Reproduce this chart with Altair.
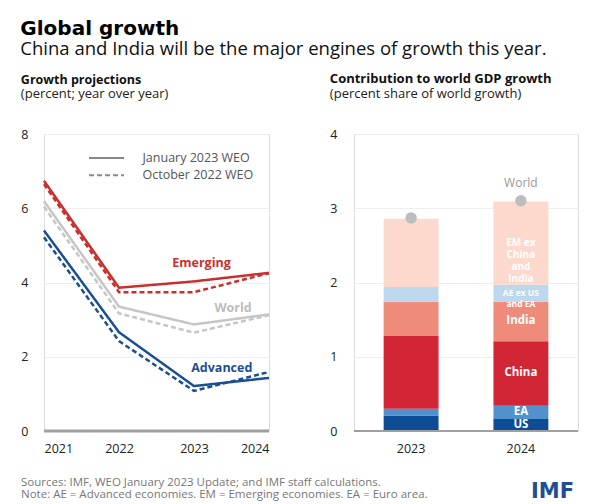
import altair as alt
import pandas as pd

FONT = "Open Sans"

# ---------------- Left panel data: growth projections ----------------
years = [2021, 2022, 2023, 2024]
regions = ["Emerging", "World", "Advanced"]
vintages = ["January 2023 WEO", "October 2022 WEO"]
emerging_jan = [6.74, 3.86, 4.03, 4.26]
emerging_oct = [6.65, 3.74, 3.74, 4.25]
world_jan = [6.19, 3.35, 2.87, 3.14]
world_oct = [6.04, 3.17, 2.65, 3.12]
advanced_jan = [5.40, 2.66, 1.21, 1.43]
advanced_oct = [5.22, 2.42, 1.08, 1.59]
region_colors = ["#c8302d", "#c6c6c6", "#1b4f91"]

series = {
    ("Emerging", vintages[0]): emerging_jan,
    ("Emerging", vintages[1]): emerging_oct,
    ("World", vintages[0]): world_jan,
    ("World", vintages[1]): world_oct,
    ("Advanced", vintages[0]): advanced_jan,
    ("Advanced", vintages[1]): advanced_oct,
}
rows = []
for (reg, vin), vals in series.items():
    for yr, v in zip(years, vals):
        rows.append({"region": reg, "vintage": vin, "year": yr, "value": v})
lines_df = pd.DataFrame(rows)

# series name annotations (data coordinates)
ann_text = ["Emerging", "World", "Advanced"]
ann_x = [2023.1, 2023.52, 2023.37]
ann_y = [4.53, 3.32, 1.70]
ann_df = pd.DataFrame({"region": ann_text, "x": ann_x, "y": ann_y})

# ---------------- Right panel data: contribution to world growth ----------------
bar_years = ["2023", "2024"]
components = ["US", "EA", "China", "India", "AE ex US and EA", "EM ex China and India"]
comp_labels = [["US"], ["EA"], ["China"], ["India"], ["AE ex US", "and EA"], ["EM ex", "China", "and", "India"]]
comp_colors = ["#0e4c96", "#5192cd", "#d22636", "#ef8b7b", "#bdd7ec", "#fcd9cc"]
contrib_2023 = [0.21, 0.09, 0.98, 0.46, 0.20, 0.92]
contrib_2024 = [0.16, 0.18, 0.87, 0.53, 0.23, 1.12]
world_total = [2.87, 3.10]

brows = []
for yr, vals in zip(bar_years, [contrib_2023, contrib_2024]):
    cum = 0.0
    for i, (c, v) in enumerate(zip(components, vals)):
        brows.append({"year": yr, "component": c, "order": i, "value": v,
                      "mid": cum + v / 2, "label": comp_labels[i]})
        cum += v
bars_df = pd.DataFrame(brows)
world_df = pd.DataFrame({"year": bar_years, "total": world_total, "name": ["", "World"]})

notes = [
    "Sources: IMF, WEO January 2023 Update; and IMF staff calculations.",
    "Note: AE = Advanced economies.  EM = Emerging economies. EA = Euro area.",
]
notes_df = pd.DataFrame({"text": [notes]})
logo_df = pd.DataFrame({"text": ["IMF"]})

W_L, W_R, H = 225, 224, 297

# ---------------- Left panel ----------------
xq = alt.X("year:Q", scale=alt.Scale(domain=[2021, 2024], nice=False),
           axis=alt.Axis(values=years, format="d", title=None, ticks=False, domain=False,
                         grid=False, labelFontSize=12.5, labelColor="#222", labelPadding=11,
                         labelFont=FONT))
yq = alt.Y("value:Q", scale=alt.Scale(domain=[0, 8], nice=False),
           axis=alt.Axis(values=[0, 2, 4, 6, 8], format="d", title=None, ticks=False, domain=False,
                         gridColor="#eeeeee", labelFontSize=12.5, labelColor="#222",
                         labelPadding=16, labelFont=FONT))

zero_rule = alt.Chart(pd.DataFrame({"value": [0]})).mark_rule(
    color="#a0a0a0", strokeWidth=3).encode(y=alt.Y("value:Q"))

lines = alt.Chart(lines_df).mark_line(strokeWidth=2.5).encode(
    x=xq, y=yq,
    color=alt.Color("region:N", scale=alt.Scale(domain=regions, range=region_colors), legend=None),
    strokeDash=alt.StrokeDash("vintage:N", scale=alt.Scale(domain=vintages, range=[[1, 0], [5, 3]]),
                              legend=alt.Legend(orient="none", legendX=52.5, legendY=14, title=None,
                                                symbolType="M-2,0H2", symbolStrokeColor="#888888",
                                                symbolFillColor="transparent",
                                                symbolStrokeWidth=2, symbolSize=306,
                                                labelFontSize=12.5, labelColor="#555555",
                                                labelFont=FONT, labelOffset=26, rowPadding=0.3)),
)

ann = alt.Chart(ann_df).mark_text(font=FONT, fontSize=12.5, fontWeight="bold").encode(
    x=alt.X("x:Q"), y=alt.Y("y:Q"), text="region:N",
    color=alt.Color("region:N", scale=alt.Scale(domain=regions, range=["#c8302d", "#bdbdbd", "#1b4f91"]),
                    legend=None),
)

footer = alt.Chart(notes_df).mark_text(font=FONT, fontSize=11.5, color="#777777", align="left",
                                       baseline="middle", lineHeight=12).encode(
    x=alt.value(-23), y=alt.value(H + 52), text="text")

left = alt.layer(zero_rule, lines, ann, footer).resolve_scale(color="independent").properties(
    width=W_L, height=H,
    title=alt.TitleParams("Growth projections", subtitle="(percent; year over year)",
                          anchor="start", frame="bounds", font=FONT, fontSize=12.5,
                          fontWeight="bold", color="#111", subtitleFont=FONT,
                          subtitleFontSize=13, subtitleColor="#222", subtitlePadding=2,
                          offset=27),
)

# ---------------- Right panel ----------------
xb = alt.X("year:N", scale=alt.Scale(paddingInner=0.5, paddingOuter=0.27),
           axis=alt.Axis(title=None, ticks=False, domain=False, labelAngle=0,
                         labelFontSize=12.5, labelColor="#222", labelPadding=11, labelFont=FONT))
yb_scale = alt.Scale(domain=[0, 4], nice=False)
yb_axis = alt.Axis(values=[0, 1, 2, 3, 4], format="d", title=None, ticks=False, domain=False,
                   gridColor="#eeeeee", labelFontSize=12.5, labelColor="#222",
                   labelPadding=17, labelFont=FONT)

bars = alt.Chart(bars_df).mark_bar().encode(
    x=xb,
    y=alt.Y("value:Q", stack="zero", scale=yb_scale, axis=yb_axis),
    color=alt.Color("component:N", scale=alt.Scale(domain=components, range=comp_colors), legend=None),
    order=alt.Order("order:Q"),
)

zero_rule_r = alt.Chart(pd.DataFrame({"value": [0]})).mark_rule(
    color="#a0a0a0", strokeWidth=2).encode(y=alt.Y("value:Q"))

bar_text_big = alt.Chart(bars_df).transform_filter(
    "datum.year == '2024' && (datum.component == 'China' || datum.component == 'India' || datum.component == 'EA' || datum.component == 'US')"
).mark_text(font=FONT, fontSize=11.5, fontWeight="bold", color="white", baseline="middle").encode(
    x="year:N", y=alt.Y("mid:Q"), text="label")

bar_text_small = alt.Chart(bars_df).transform_filter(
    "datum.year == '2024' && datum.component == 'AE ex US and EA'"
).mark_text(font=FONT, fontSize=8.5, fontWeight="bold", color="white", baseline="middle",
            lineHeight=10.5).encode(x="year:N", y=alt.Y("mid:Q"), text="label")

bar_text_em = alt.Chart(bars_df).transform_filter(
    "datum.year == '2024' && datum.component == 'EM ex China and India'"
).mark_text(font=FONT, fontSize=10, fontWeight="bold", color="white", baseline="middle",
            lineHeight=12).encode(x="year:N", y=alt.Y("mid:Q"), text="label")

dots = alt.Chart(world_df).mark_circle(size=130, color="#bdbdbd", opacity=1).encode(
    x="year:N", y=alt.Y("total:Q"))

world_lbl = alt.Chart(world_df).mark_text(font=FONT, fontSize=12, color="#9a9a9a", dy=-18,
                                          baseline="middle").encode(
    x="year:N", y=alt.Y("total:Q"), text="name:N")

logo = alt.Chart(logo_df).mark_text(font="DejaVu Sans", fontSize=21, fontWeight="bold",
                                    color="#1f4e96", align="right", baseline="middle").encode(
    x=alt.value(220), y=alt.value(H + 61), text="text:N")

right = alt.layer(bars, zero_rule_r, bar_text_big, bar_text_small, bar_text_em, dots,
                  world_lbl, logo).properties(
    width=W_R, height=H,
    title=alt.TitleParams("Contribution to world GDP growth",
                          subtitle="(percent share of world growth)",
                          anchor="start", frame="bounds", font=FONT, fontSize=13,
                          fontWeight="bold", color="#111", subtitleFont=FONT,
                          subtitleFontSize=13, subtitleColor="#222", subtitlePadding=2,
                          offset=27),
)

chart = alt.hconcat(left, right, spacing=85, bounds="flush").properties(
    title=alt.TitleParams("Global growth",
                          subtitle="China and India will be the major engines of growth this year.",
                          anchor="start", font="DejaVu Sans", fontSize=20, fontWeight="bold",
                          color="#000", subtitleFont=FONT, subtitleFontSize=18.5,
                          subtitleColor="#111", subtitlePadding=1, offset=14),
    padding={"left": 12, "top": 11, "right": 5, "bottom": 2},
).configure_view(stroke=None).configure(background="white")

chart.save("out.html", embed_options={"renderer": "svg", "actions": False})
